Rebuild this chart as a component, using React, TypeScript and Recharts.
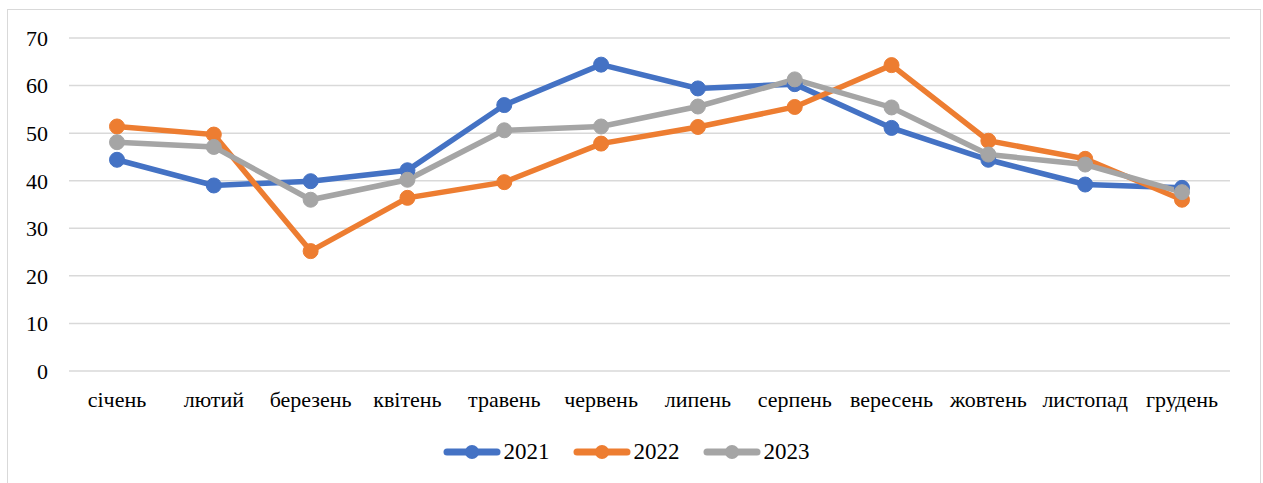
import React from 'react';
import { LineChart, Line, XAxis, YAxis, CartesianGrid, Legend } from 'recharts';

const months = [
  'січень', 'лютий', 'березень', 'квітень', 'травень', 'червень',
  'липень', 'серпень', 'вересень', 'жовтень', 'листопад', 'грудень',
];
const values2021 = [44.4, 39.0, 39.9, 42.2, 55.9, 64.4, 59.4, 60.3, 51.1, 44.4, 39.2, 38.5];
const values2022 = [51.4, 49.7, 25.2, 36.4, 39.7, 47.8, 51.3, 55.5, 64.3, 48.4, 44.6, 36.0];
const values2023 = [48.1, 47.1, 36.0, 40.2, 50.6, 51.4, 55.6, 61.3, 55.4, 45.5, 43.4, 37.6];
const yTicks = [0, 10, 20, 30, 40, 50, 60, 70];

const series = [
  { key: 'y2021', name: '2021', color: '#4472C4' },
  { key: 'y2022', name: '2022', color: '#ED7D31' },
  { key: 'y2023', name: '2023', color: '#A5A5A5' },
];

const data = months.map((m, i) => ({
  month: m,
  y2021: values2021[i],
  y2022: values2022[i],
  y2023: values2023[i],
}));

const FONT = '"Liberation Serif", "Times New Roman", serif';

const LegendContent = () => (
  <div
    style={{
      display: 'flex',
      justifyContent: 'center',
      alignItems: 'center',
      height: 30,
      gap: 23,
      fontFamily: FONT,
      fontSize: 23,
      color: '#000',
      paddingLeft: 14,
    }}
  >
    {series.map((s) => (
      <div key={s.key} style={{ display: 'flex', alignItems: 'center' }}>
        <svg width={58} height={16} style={{ marginRight: 3 }}>
          <line x1={4} y1={8} x2={54} y2={8} stroke={s.color} strokeWidth={7} strokeLinecap="round" />
          <circle cx={29} cy={8} r={7} fill={s.color} />
        </svg>
        <span>{s.name}</span>
      </div>
    ))}
  </div>
);

export default function App() {
  return (
    <div
      style={{
        position: 'absolute',
        left: 0,
        top: 0,
        width: 1263,
        height: 483,
        background: '#fff',
        fontFamily: FONT,
      }}
    >
      <div
        style={{
          position: 'absolute',
          left: 7,
          top: 9,
          width: 1252,
          height: 480,
          border: '1px solid #d9d9d9',
        }}
      />
      <LineChart
        width={1263}
        height={483}
        data={data}
        margin={{ top: 38, right: 33, left: 8, bottom: 16 }}
      >
        <CartesianGrid vertical={false} stroke="#d9d9d9" strokeWidth={1.5} />
        <XAxis
          dataKey="month"
          axisLine={false}
          tickLine={false}
          tickSize={0}
          tickMargin={20}
          height={66}
          interval={0}
          padding={{ left: 48, right: 48 }}
          tick={{ fill: '#000', fontSize: 22, fontFamily: FONT }}
        />
        <YAxis
          domain={[0, 70]}
          ticks={yTicks}
          width={61}
          axisLine={false}
          tickLine={false}
          tickSize={0}
          tickMargin={21}
          tick={{ fill: '#000', fontSize: 22, fontFamily: FONT }}
        />
        <Legend verticalAlign="bottom" height={30} content={<LegendContent />} />
        {series.map((s) => (
          <Line
            key={s.key}
            type="linear"
            dataKey={s.key}
            name={s.name}
            stroke={s.color}
            strokeWidth={5.5}
            dot={{ r: 7.5, fill: s.color, stroke: s.color, strokeWidth: 1 }}
            activeDot={false}
            isAnimationActive={false}
          />
        ))}
      </LineChart>
    </div>
  );
}
